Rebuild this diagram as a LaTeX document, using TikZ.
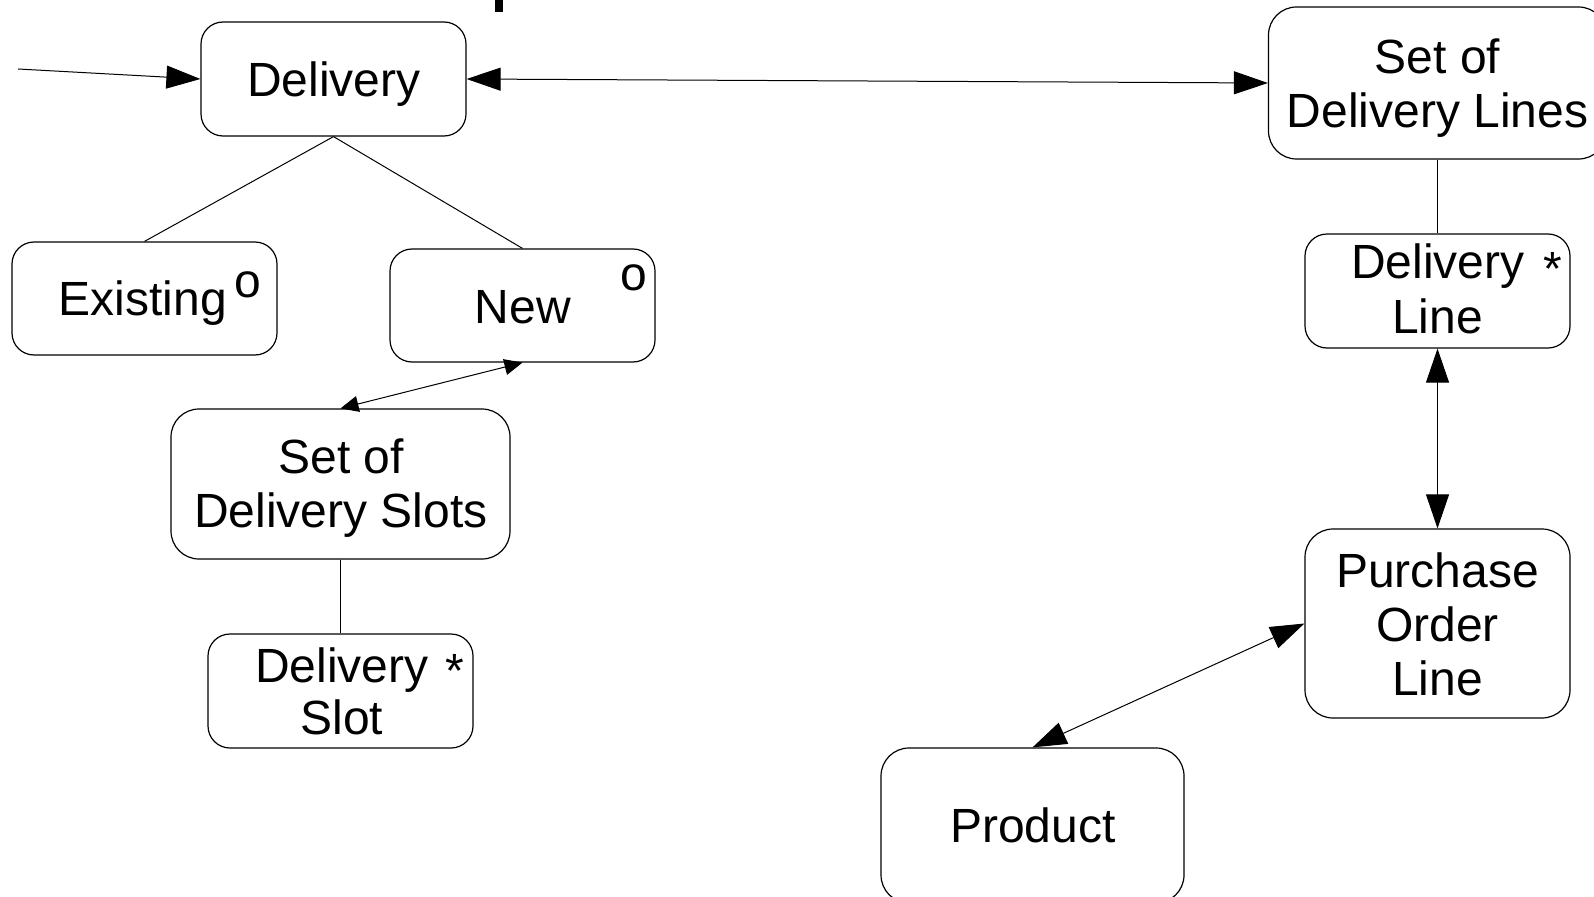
\documentclass[tikz,border=0pt]{standalone}
\usepackage{fontspec}
\setmainfont{Liberation Sans}
\usetikzlibrary{arrows.meta}
\begin{document}
\begin{tikzpicture}[x=1pt,y=-1pt,
  box/.style={draw=black,line width=1.2pt,rounded corners=22pt,inner sep=0pt,minimum width=265pt,minimum height=114pt},
  bigbox/.style={box,rounded corners=28pt},
  lbl/.style={anchor=base,inner sep=0pt,font=\fontsize{48}{54}\selectfont},
  conn/.style={draw=black,line width=1pt},
  bigtip/.tip={Triangle[length=34pt,width=23pt]},
  smalltip/.tip={Triangle[length=18pt,width=16pt]}]
\useasboundingbox (0,0) rectangle (1594,896);
\begin{scope}
\clip (0,0) rectangle (1594,896);
% boxes
\node[box] (del) at (333.5,79) {};
\node[box,minimum height=113pt] (exi) at (144.5,298.5) {};
\node[box,minimum height=113pt] (new) at (522.5,305.5) {};
\node[bigbox,minimum width=339pt,minimum height=150pt] (sds) at (340.5,484) {};
\node[box] (ds) at (340.5,691) {};
\node[bigbox,minimum width=338pt,minimum height=152pt] (sdl) at (1437.5,83) {};
\node[box] (dl) at (1437.5,291) {};
\node[bigbox,minimum height=189pt] (pol) at (1437.5,623.5) {};
\node[bigbox,minimum width=303pt,minimum height=155pt] (prod) at (1032.5,825.5) {};
% fragment of cut-off text at the top
\fill[black] (494.5,0) rectangle (502.5,12.5);
\end{scope}
% labels
\node[lbl] (tdel) at (334,96.5) {Delivery};
\node[lbl] (texi) at (143,315) {Existing};
\node[lbl] (oexi) at (248,297) {o};
\node[lbl] (tnew) at (523,323) {New};
\node[lbl] (onew) at (634,290) {o};
\node[lbl] (tsds1) at (341,473) {Set of};
\node[lbl] (tsds2) at (341,527) {Delivery Slots};
\node[lbl] (tds1) at (341.7,682) {Delivery};
\node[lbl] (tds2) at (341.7,734) {Slot};
\node[lbl] (astds) at (455,687) {*};
\node[lbl] (tsdl1) at (1437.5,74) {Set of};
\node[lbl] (tsdl2) at (1437.5,128) {Delivery Lines};
\node[lbl] (tdl1) at (1437.7,278) {Delivery};
\node[lbl] (tdl2) at (1437.5,333) {Line};
\node[lbl] (astdl) at (1553,285) {*};
\node[lbl] (tpol1) at (1437.5,587) {Purchase};
\node[lbl] (tpol2) at (1437.5,641) {Order};
\node[lbl] (tpol3) at (1437.5,695) {Line};
\node[lbl] (tprod) at (1033,842) {Product};
% connectors
\coordinate (in) at (18,69);
\draw[conn,-bigtip] (in) -- (del.west);
\draw[conn,bigtip-bigtip] (del.east) -- (sdl.west);
\draw[conn] (del.south) -- (exi.north);
\draw[conn] (del.south) -- (new.north);
\draw[conn,smalltip-smalltip] (new.south) -- (sds.north);
\draw[conn] (sds.south) -- (ds.north);
\draw[conn] (sdl.south) -- (dl.north);
\draw[conn,bigtip-bigtip] (dl.south) -- (pol.north);
\draw[conn,bigtip-bigtip] (pol.west) -- (prod.north);
\end{tikzpicture}
\end{document}
